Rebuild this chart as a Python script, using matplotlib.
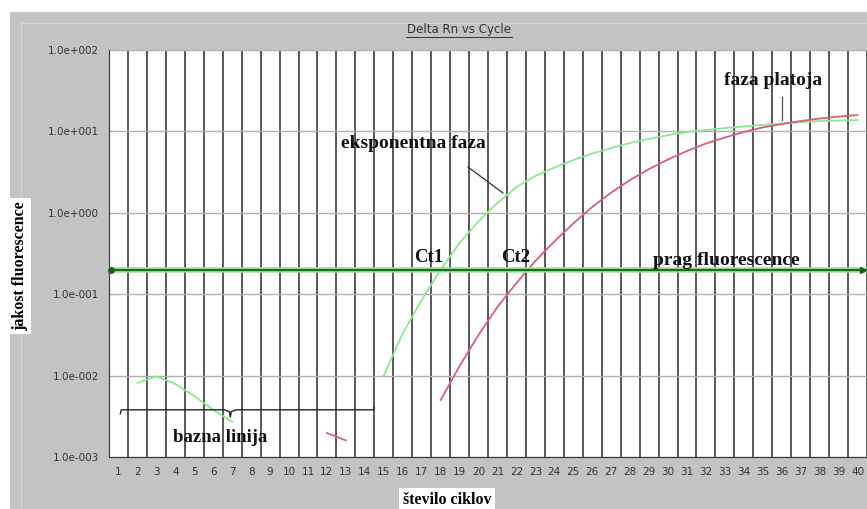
import matplotlib.pyplot as plt
import numpy as np
from matplotlib.patches import Rectangle
from matplotlib.lines import Line2D

# cycle numbers 1..40 (x axis categories)
cycles = np.arange(1, 41)

# sample 1 (green) - baseline noise and amplification part
green_base_cyc = [2, 3, 4, 5, 6, 7]
green_base_val = [0.0081, 0.0098, 0.0079, 0.0056, 0.0038, 0.0027]
green_cyc = list(range(15, 41))
green_val = [0.010, 0.033, 0.085, 0.20, 0.426, 0.79, 1.32, 2.07, 2.83, 3.6,
             4.45, 5.35, 6.25, 7.2, 8.1, 9.0, 9.8, 10.4, 11.0, 11.5,
             12.0, 12.5, 13.0, 13.4, 13.6, 13.8]

# sample 2 (red)
red_base_cyc = [12, 13]
red_base_val = [0.00197, 0.0016]
red_cyc = list(range(18, 41))
red_val = [0.0050, 0.0131, 0.0316, 0.0697, 0.137, 0.256, 0.444, 0.74, 1.18, 1.77,
           2.53, 3.45, 4.52, 5.74, 7.1, 8.41, 9.84, 11.2, 12.3, 13.4,
           14.4, 15.2, 15.9]

threshold = 0.2
baseline_start, baseline_end = 1.1, 14.5
y_ticks = [1e-3, 1e-2, 1e-1, 1e0, 1e1, 1e2]
y_labels = ["1.0e-003", "1.0e-002", "1.0e-001", "1.0e+000", "1.0e+001", "1.0e+002"]

serif = ["Liberation Serif", "DejaVu Serif"]
W, H = 867, 509
fig = plt.figure(figsize=(W / 100, H / 100), dpi=100, facecolor="white")

# gray panel behind the chart
fig.patches.append(Rectangle((10 / W, 0), 1, 1 - 12 / H, transform=fig.transFigure,
                             facecolor="#c3c3c3", edgecolor="none", zorder=-10))
fig.lines.append(Line2D([21 / W, 21 / W], [0, 1 - 23 / H], transform=fig.transFigure,
                        color="#d6d6d6", lw=0.8, zorder=-9))
fig.lines.append(Line2D([21 / W, 1], [1 - 23 / H, 1 - 23 / H], transform=fig.transFigure,
                        color="#d6d6d6", lw=0.8, zorder=-9))

ax = fig.add_axes([109 / W, 1 - 457 / H, 758 / W, 407 / H])
ax.set_facecolor("white")
ax.set_yscale("log")
ax.set_xlim(0.5, 40.5)
ax.set_ylim(1e-3, 1e2)

# grid: dark vertical cell borders, light horizontal decades
for xb in np.arange(0.5, 41, 1):
    ax.axvline(xb, color="#4a4a4a", lw=1.3, zorder=1)
for yv in y_ticks:
    ax.axhline(yv, color="#b0b0b0", lw=1.0, zorder=1)

ax.set_xticks(cycles)
ax.set_xticklabels([str(c) for c in cycles], fontsize=7.5, color="#333333")
ax.set_yticks(y_ticks)
ax.set_yticklabels(y_labels, fontsize=7.5, color="#333333")
ax.yaxis.set_minor_locator(plt.NullLocator())
ax.tick_params(length=0, pad=7)
for s in ax.spines.values():
    s.set_visible(False)
ax.spines["left"].set_visible(True)
ax.spines["bottom"].set_visible(True)
ax.spines["left"].set_color("#333333")
ax.spines["bottom"].set_color("#333333")

# curves
gcol = "#8fe68f"
rcol = "#d4607a"
ax.plot(green_base_cyc, green_base_val, color=gcol, lw=1.3, zorder=3)
ax.plot(green_cyc, green_val, color=gcol, lw=1.3, zorder=3)
ax.plot(red_base_cyc, red_base_val, color=rcol, lw=1.3, zorder=3)
ax.plot(red_cyc, red_val, color=rcol, lw=1.3, zorder=3)

# threshold line
ax.axhline(threshold, color="#9be39b", lw=4, zorder=4)
ax.axhline(threshold, color="#1e6e1e", lw=1.6, zorder=5)
ax.plot([0.62], [threshold], marker="o", ms=4, color="#1e5e1e", zorder=6, clip_on=False)
ax.plot([40.3], [threshold], marker=">", ms=5, color="#1e5e1e", zorder=6, clip_on=False)

# baseline brace
bx = [baseline_start, baseline_start + 0.05, 6.6, 6.85, 6.9, 6.95, 7.2, baseline_end - 0.05, baseline_end]
by = [0.0034, 0.0038, 0.0038, 0.0036, 0.0031, 0.0036, 0.0038, 0.0038, 0.0041]
ax.plot(bx, by, color="#222222", lw=1.0, zorder=6)

tkw = dict(family=serif, fontweight="bold", color="#111111", ha="center", va="center", zorder=7)
ax.text(16.54, 7.2, "eksponentna faza", fontsize=14, **tkw)
ax.plot([19.44, 21.29], [3.66, 1.75], color="#333333", lw=0.9, zorder=6)
ax.text(35.54, 42.8, "faza platoja", fontsize=14, **tkw)
ax.plot([36.0, 36.0], [26.5, 13.8], color="#555555", lw=0.9, zorder=6)
ax.text(17.39, 0.28, "Ct1", fontsize=13.5, **tkw)
ax.text(21.98, 0.28, "Ct2", fontsize=13.5, **tkw)
ax.text(33.06, 0.26, "prag fluorescence", fontsize=14, **tkw)
ax.text(6.36, 0.00176, "bazna linija", fontsize=13.5, **tkw)

# title with underline
fig.text(459 / W, 1 - 30 / H, "Delta Rn vs Cycle", fontsize=8.5, color="#333333",
         ha="center", va="center")
fig.lines.append(Line2D([406 / W, 512 / W], [1 - 37 / H, 1 - 37 / H],
                        transform=fig.transFigure, color="#333333", lw=0.7))

fig.text(20 / W, 1 - 266 / H, "jakost fluorescence", rotation=90, fontsize=11.5,
         family=serif, fontweight="bold", ha="center", va="center",
         bbox=dict(facecolor="white", edgecolor="none", pad=2))
fig.text(447 / W, 1 - 500 / H, "število ciklov", fontsize=11.5, family=serif,
         fontweight="bold", ha="center", va="center",
         bbox=dict(facecolor="white", edgecolor="none", pad=3))

fig.savefig("out.png", dpi=100, facecolor=fig.get_facecolor())
